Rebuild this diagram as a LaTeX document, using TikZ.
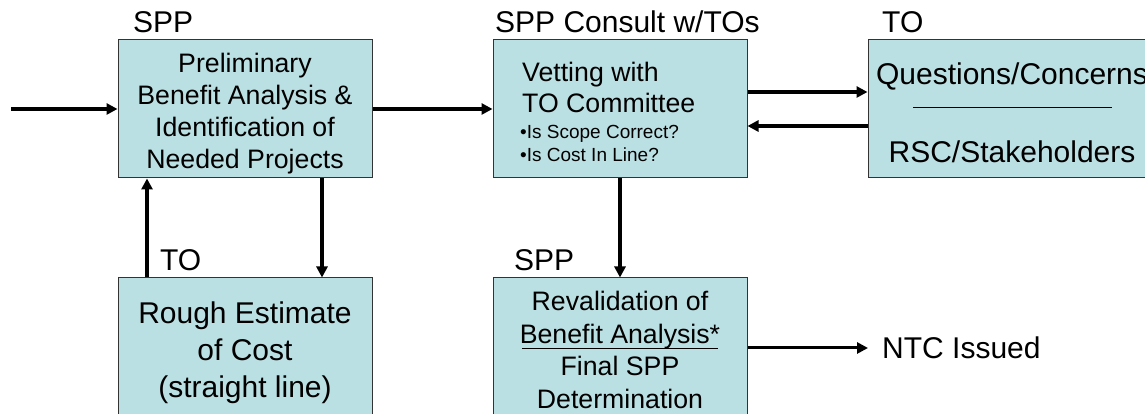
\documentclass[tikz,border=0pt]{standalone}
\usepackage{fontspec}
\setmainfont{Liberation Sans}
\usetikzlibrary{arrows.meta}
\definecolor{boxfill}{RGB}{187,224,227}

\begin{document}
\begin{tikzpicture}[x=1pt,y=1pt,
	box/.style={rectangle, draw=black!80, line width=1pt, fill=boxfill, inner sep=0pt, minimum width=254pt, minimum height=138pt, align=center},
	who/.style={anchor=base west, inner sep=0pt, font=\fontsize{30}{36}\selectfont},
	flow/.style={line width=3.5pt, -{Triangle[length=11pt,width=11pt]}},
	bar/.style={line width=1pt}]

\useasboundingbox (0,0) rectangle (1145,414);
\clip (0,0) rectangle (1145,414);

% boxes
\node[box, font=\fontsize{26.7}{32}\selectfont](prelim) at(245,305) {\rule{0pt}{28pt}Preliminary\\Benefit Analysis \&\\Identification of\\Needed Projects};
\node[box](vet) at(620,305) {};
\node[box, minimum width=288pt](qc) at(1012,305) {};
\node[box, minimum height=144pt, font=\fontsize{30}{37}\selectfont](est) at(245,64) {\rule{0pt}{28pt}Rough Estimate\\of Cost\\(straight line)};
\node[box, minimum height=144pt, font=\fontsize{26.7}{32.4}\selectfont](reval) at(620,64) {Revalidation of\\Benefit Analysis*\\Final SPP\\Determination};

% texts inside the boxes
\node[anchor=west, inner sep=0pt, align=left, font=\fontsize{26.7}{31}\selectfont](vettop) at(522,326.5) {Vetting with\\TO Committee};
\node[anchor=west, inner sep=0pt, align=left, font=\fontsize{19}{23}\selectfont](vetbul) at(520,270.5) {•Is Scope Correct?\\•Is Cost In Line?};
\node[inner sep=0pt, font=\fontsize{30}{36}\selectfont](qtop) at(1012,338) {Questions/Concerns};
\node[inner sep=0pt, font=\fontsize{30}{36}\selectfont](qbot) at(1012,262) {RSC/Stakeholders};
\draw[bar] (913,306) -- (1112,306);
\draw[bar] (522,65) -- (718,65);

% who does it
\node[who](l1) at(133,381) {SPP};
\node[who](l2) at(495,381) {SPP Consult w/TOs};
\node[who](l3) at(882,381) {TO};
\node[who](l4) at(160,143) {TO};
\node[who](l5) at(514,143) {SPP};
\node[anchor=west, inner sep=0pt, font=\fontsize{30}{36}\selectfont](ntc) at(882,66) {NTC Issued};

% arrows
\coordinate(in) at(11,305);
\draw[flow] (in) -- (prelim.west);
\draw[flow] (prelim.east) -- (vet.west);
\draw[flow] ([yshift=17pt]vet.east) -- ([yshift=17pt]qc.west);
\draw[flow] ([yshift=-17pt]qc.west) -- ([yshift=-17pt]vet.east);
\draw[flow] (vet.south) -- (reval.north);
\draw[flow] ([xshift=-98pt]est.north) -- ([xshift=-98pt]prelim.south);
\draw[flow] ([xshift=77pt]prelim.south) -- ([xshift=77pt]est.north);
\draw[flow, line width=3pt] (reval.east |- ntc.west) -- ([xshift=-14pt]ntc.west);

\end{tikzpicture}
\end{document}
